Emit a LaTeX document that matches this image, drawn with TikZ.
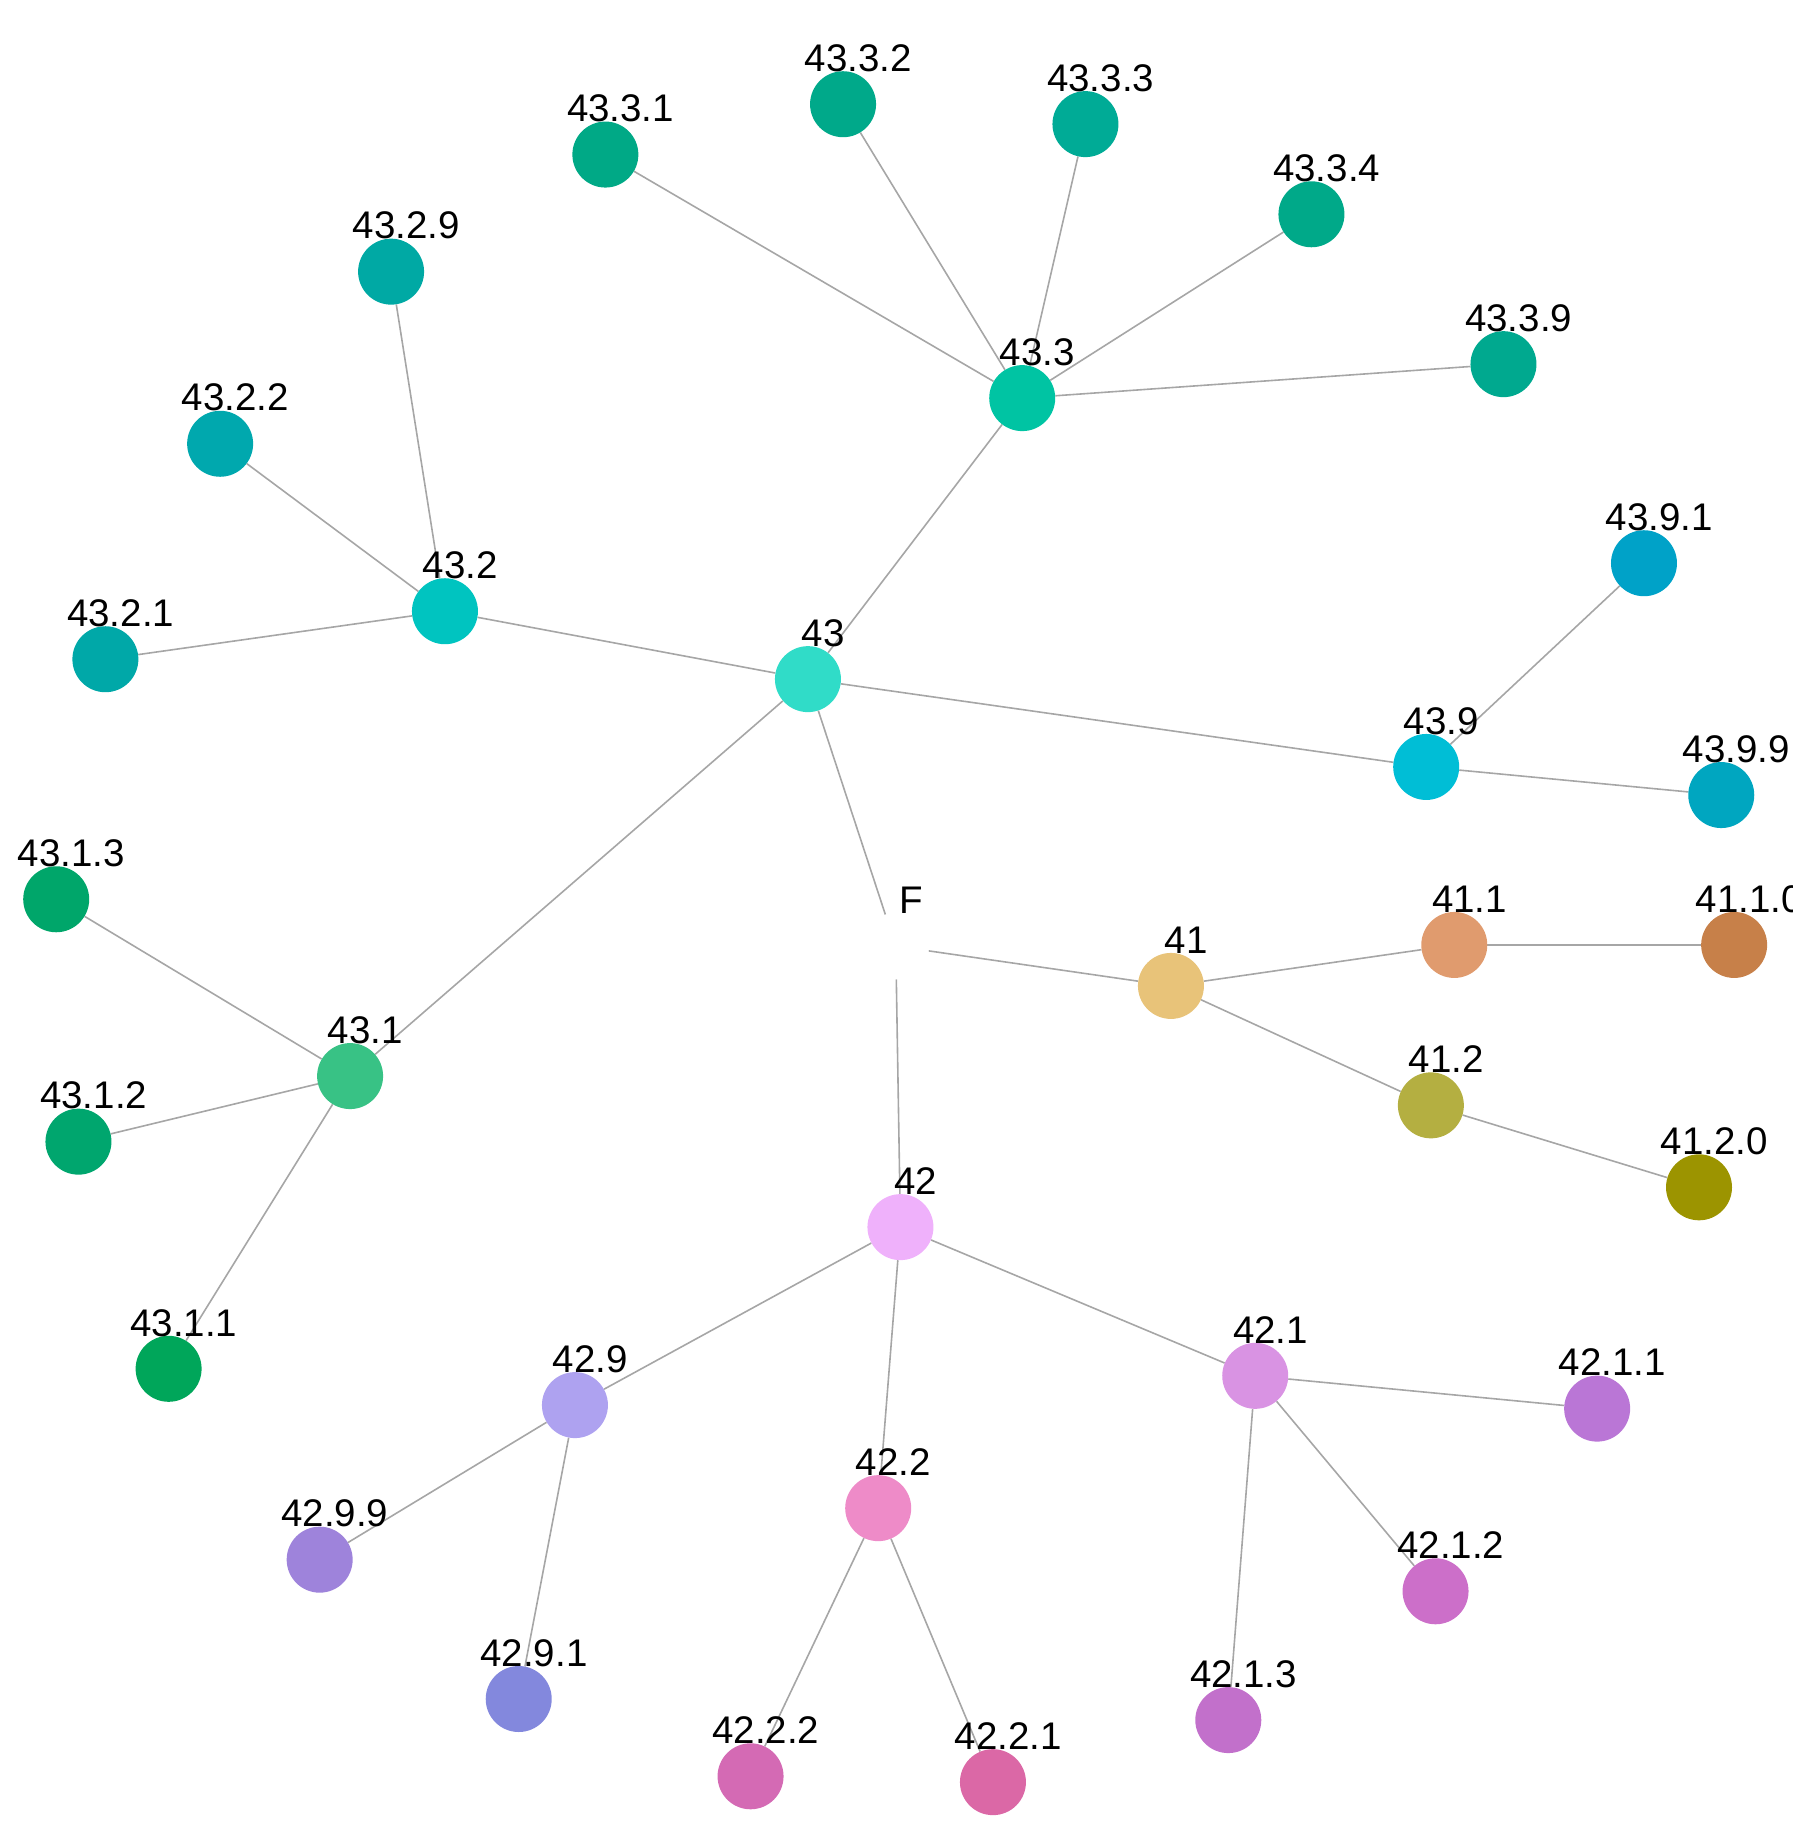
\documentclass[tikz,border=0pt]{standalone}
\usepackage{fontspec}
\setmainfont{Liberation Sans}
\pgfdeclarelayer{background}
\pgfsetlayers{background,main}
\definecolor{edgegray}{HTML}{A6A6A6}
\definecolor{c43}{HTML}{30DCC8}
\definecolor{c433}{HTML}{00C4A3}
\definecolor{c4331}{HTML}{00A986}
\definecolor{c4332}{HTML}{00A98A}
\definecolor{c4333}{HTML}{00AB96}
\definecolor{c4334}{HTML}{00A989}
\definecolor{c4339}{HTML}{00A98F}
\definecolor{c432}{HTML}{00C4C0}
\definecolor{c4329}{HTML}{00A9A4}
\definecolor{c4322}{HTML}{00A8AE}
\definecolor{c4321}{HTML}{00A8A8}
\definecolor{c439}{HTML}{00BED6}
\definecolor{c4391}{HTML}{00A2C8}
\definecolor{c4399}{HTML}{00A6C0}
\definecolor{c431}{HTML}{38C285}
\definecolor{c4313}{HTML}{00A66A}
\definecolor{c4312}{HTML}{00A66E}
\definecolor{c4311}{HTML}{00A65A}
\definecolor{c41}{HTML}{E8C379}
\definecolor{c411}{HTML}{E09B6E}
\definecolor{c4110}{HTML}{C78049}
\definecolor{c412}{HTML}{B4AF41}
\definecolor{c4120}{HTML}{9C9400}
\definecolor{c42}{HTML}{EFB1FB}
\definecolor{c429}{HTML}{AEA2F0}
\definecolor{c4299}{HTML}{9E83DB}
\definecolor{c4291}{HTML}{8388DD}
\definecolor{c422}{HTML}{EE8BC8}
\definecolor{c4222}{HTML}{D46AB4}
\definecolor{c4221}{HTML}{DB68A6}
\definecolor{c421}{HTML}{D993E3}
\definecolor{c4211}{HTML}{BA76D6}
\definecolor{c4212}{HTML}{CC6FC9}
\definecolor{c4213}{HTML}{C270CB}
\newcommand{\V}[5]{%
  \node[vtx, fill=#4] (#1) at (#2,#3) {};
  \node[lbl] (#1l) at ({#2+13},{#3-28}) {#5};
}
\begin{document}
\begin{tikzpicture}[x=1.1711pt, y=-1.1711pt,
  vtx/.style={circle, draw=none, minimum size=66pt, inner sep=0pt},
  lbl/.style={anchor=base, inner sep=0pt, font=\fontsize{38.5}{40}\selectfont},
  edge/.style={draw=edgegray, line width=1.6pt}]
\useasboundingbox (0,0) rectangle (1531,1568);
\V{n43}{690}{580}{c43}{43}
\V{nF}{765}{808}{white}{F}
\V{n433}{873}{340}{c433}{43.3}
\V{n4331}{517}{132}{c4331}{43.3.1}
\V{n4332}{720}{89}{c4332}{43.3.2}
\V{n4333}{927}{106}{c4333}{43.3.3}
\V{n4334}{1120}{183}{c4334}{43.3.4}
\V{n4339}{1284}{311}{c4339}{43.3.9}
\V{n432}{380}{522}{c432}{43.2}
\V{n4329}{334}{232}{c4329}{43.2.9}
\V{n4322}{188}{379}{c4322}{43.2.2}
\V{n4321}{90}{563}{c4321}{43.2.1}
\V{n439}{1218}{655}{c439}{43.9}
\V{n4391}{1404}{481}{c4391}{43.9.1}
\V{n4399}{1470}{679}{c4399}{43.9.9}
\V{n431}{299}{919}{c431}{43.1}
\V{n4313}{48}{768}{c4313}{43.1.3}
\V{n4312}{67}{975}{c4312}{43.1.2}
\V{n4311}{144}{1169}{c4311}{43.1.1}
\V{n41}{1000}{842}{c41}{41}
\V{n411}{1242}{807}{c411}{41.1}
\V{n4110}{1481}{807}{c4110}{41.1.0}
\V{n412}{1222}{944}{c412}{41.2}
\V{n4120}{1451}{1014}{c4120}{41.2.0}
\V{n42}{769}{1048}{c42}{42}
\V{n429}{491}{1200}{c429}{42.9}
\V{n4299}{273}{1332}{c4299}{42.9.9}
\V{n4291}{443}{1451}{c4291}{42.9.1}
\V{n422}{750}{1288}{c422}{42.2}
\V{n4222}{641}{1517}{c4222}{42.2.2}
\V{n4221}{848}{1522}{c4221}{42.2.1}
\V{n421}{1072}{1175}{c421}{42.1}
\V{n4211}{1364}{1203}{c4211}{42.1.1}
\V{n4212}{1226}{1359}{c4212}{42.1.2}
\V{n4213}{1049}{1469}{c4213}{42.1.3}
\begin{pgfonlayer}{background}
\foreach \a/\b in {nF/n43, nF/n41, nF/n42,
  n43/n433, n43/n432, n43/n439, n43/n431,
  n433/n4331, n433/n4332, n433/n4333, n433/n4334, n433/n4339,
  n432/n4329, n432/n4322, n432/n4321,
  n439/n4391, n439/n4399,
  n431/n4313, n431/n4312, n431/n4311,
  n41/n411, n41/n412, n411/n4110, n412/n4120,
  n42/n429, n42/n422, n42/n421,
  n429/n4299, n429/n4291,
  n422/n4222, n422/n4221,
  n421/n4211, n421/n4212, n421/n4213}
  \draw[edge] (\a) -- (\b);
\end{pgfonlayer}
\end{tikzpicture}
\end{document}
